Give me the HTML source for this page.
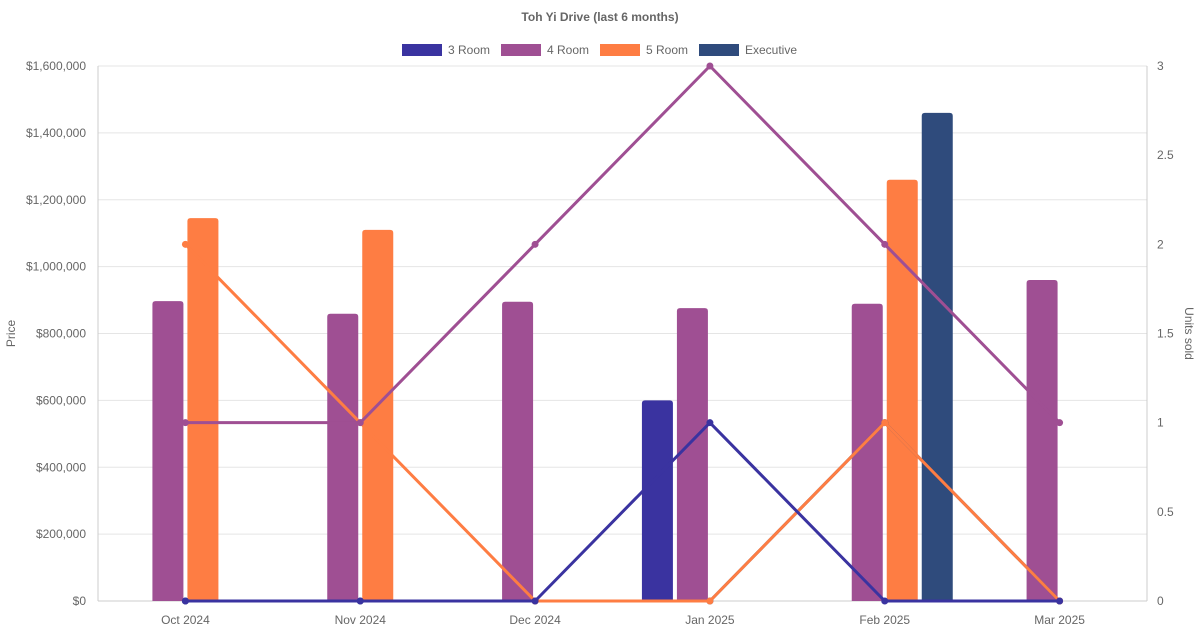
<!DOCTYPE html>
<html><head><meta charset="utf-8"><style>
body{margin:0;background:#fff;}
svg{display:block;font-family:"Liberation Sans",sans-serif;}
</style></head><body>
<svg id="chart" width="1200" height="630">
<text x="600" y="21" text-anchor="middle" font-size="12" font-weight="bold" fill="#666">Toh Yi Drive (last 6 months)</text>
<g id="legend"></g>
<g id="grid"></g>
<g id="bars"></g>
<g id="lines"></g>
<g id="axes"></g>
</svg>
<script>
const categories=["Oct 2024","Nov 2024","Dec 2024","Jan 2025","Feb 2025","Mar 2025"];
const seriesNames=["3 Room","4 Room","5 Room","Executive"];
const price3=[null,null,null,600000,null,null];
const price4=[897000,859000,895000,876000,889000,960000];
const price5=[1145000,1110000,null,null,1260000,null];
const priceE=[null,null,null,null,1460000,null];
const units3=[0,0,0,1,0,0];
const units4=[1,1,2,3,2,1];
const units5=[2,1,0,0,1,0];
const unitsE=[0,0,0,0,1,0];
const priceTicks=[0,200000,400000,600000,800000,1000000,1200000,1400000,1600000];
const unitTicks=[0,0.5,1,1.5,2,2.5,3];
const colors=["#3a33a0","#9f4f93","#fe7d43","#2f4b7c"];
const L=98,R=1147,T=66,B=601;
const NS="http://www.w3.org/2000/svg";
const pMax=1600000,uMax=3;
const yP=v=>B-(v/pMax)*(B-T);
const yU=v=>B-(v/uMax)*(B-T);
const bw=(R-L)/categories.length;
const xC=i=>L+bw*(i+0.5);
function mk(tag,attrs,parent){const e=document.createElementNS(NS,tag);for(const k in attrs)e.setAttribute(k,attrs[k]);parent.appendChild(e);return e;}
const grid=document.getElementById('grid'),axes=document.getElementById('axes'),bars=document.getElementById('bars'),lines=document.getElementById('lines'),legend=document.getElementById('legend');
priceTicks.forEach(t=>{
 const g=mk('line',{x1:L,x2:R,y1:yP(t),y2:yP(t),stroke:t===0?'#ccc':'#e5e5e5','stroke-width':1},grid);
 
 
 const tx=mk('text',{x:L-12,y:yP(t)+4,'text-anchor':'end','font-size':12,fill:'#666'},axes);
 tx.textContent='$'+t.toLocaleString('en-US');
 
 
});
unitTicks.forEach(t=>{
 const tx=mk('text',{x:R+10,y:yU(t)+4,'font-size':12,fill:'#666'},axes);
 tx.textContent=String(t);
 
 
});
mk('line',{x1:L,x2:L,y1:T,y2:B,stroke:'#ccc'},grid);
mk('line',{x1:R,x2:R,y1:T,y2:B,stroke:'#ccc'},grid);
categories.forEach((c,i)=>{
 const tx=mk('text',{x:xC(i),y:B+23,'text-anchor':'middle','font-size':12,fill:'#666'},axes);
 tx.textContent=c;
 
 
});
let yt=mk('text',{x:0,y:0,'text-anchor':'middle','font-size':12,fill:'#666',transform:`translate(15,${(T+B)/2}) rotate(-90)`},axes);
yt.textContent='Price';


yt=mk('text',{x:0,y:0,'text-anchor':'middle','font-size':12,fill:'#666',transform:`translate(1185,${(T+B)/2}) rotate(90)`},axes);
yt.textContent='Units sold';


const prices=[price3,price4,price5,priceE];
const slot=35;
prices.forEach((arr,s)=>{
 arr.forEach((v,i)=>{
  if(v==null)return;
  const x0=xC(i)-2*slot+s*slot+2;
  const r=mk('path',{d:`M${x0},${B} V${yP(v)+3} Q${x0},${yP(v)} ${x0+3},${yP(v)} H${x0+28} Q${x0+31},${yP(v)} ${x0+31},${yP(v)+3} V${B} Z`,fill:colors[s]},bars);
  
  
 });
});
const units=[units3,units4,units5,unitsE];
[3,2,1,0].forEach(s=>{
 const arr=units[s];
 const p=mk('polyline',{points:arr.map((v,i)=>xC(i)+','+yU(v)).join(' '),fill:'none',stroke:colors[s],'stroke-width':3,'stroke-linejoin':'round'},lines);
 
 
 arr.forEach((v,i)=>{
  const c=mk('circle',{cx:xC(i),cy:yU(v),r:3.5,fill:colors[s]},lines);
  
  
 });
});
const lx=[402,501,600,699];
seriesNames.forEach((n,s)=>{
 const g=mk('g',{},legend);
 
 
 mk('rect',{x:lx[s],y:44,width:40,height:12,fill:colors[s]},g);
 const t=mk('text',{x:lx[s]+46,y:54,'font-size':12,fill:'#666'},g);
 t.textContent=n;
});
</script>
</body></html>
